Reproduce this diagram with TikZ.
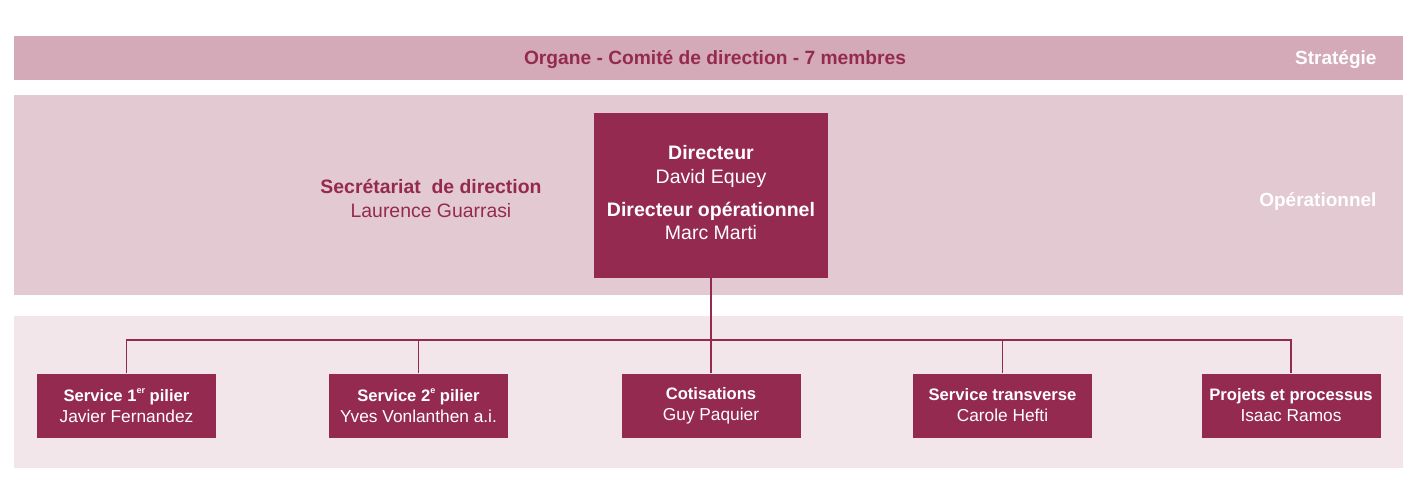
\documentclass[tikz,border=0pt]{standalone}
\usepackage{fontspec}
\setmainfont{Liberation Sans}
\definecolor{wine}{HTML}{952A50}
\definecolor{bandA}{HTML}{D4AAB8}
\definecolor{bandB}{HTML}{E3C9D2}
\definecolor{bandC}{HTML}{F2E6EB}
\newcommand{\unitsup}[1]{\raisebox{0.45em}{\fontsize{9}{9}\selectfont #1}}
\tikzset{
  band/.style={fill=#1, draw=none},
  unit/.style={fill=wine, draw=none, text=white, minimum width=179pt, minimum height=64pt, inner sep=0pt, align=center, font=\fontsize{16.6}{21}\selectfont},
  link/.style={draw=wine, line width=1.3pt},
  bandlabel/.style={text=white, font=\fontsize{19}{22}\selectfont\bfseries, anchor=east}
}
\begin{document}
\begin{tikzpicture}[x=1pt,y=-1pt]
\useasboundingbox (0,0) rectangle (1417,503);
% bands
\fill[band=bandA] (14,36) rectangle (1403,80);
\fill[band=bandB] (14,95) rectangle (1403,295);
\fill[band=bandC] (14,316) rectangle (1403,468);
\node[text=wine, font=\fontsize{19.2}{22}\selectfont\bfseries] (organe) at (715,59) {Organe - Comité de direction - 7 membres};
\node[bandlabel] (strat) at (1380,59.5) {Stratégie};
\node[bandlabel] (oper) at (1380,202) {Opérationnel};
% secretariat
\node[text=wine, align=center, font=\fontsize{19.4}{24}\selectfont] (secr) at (431,198.5) {\textbf{Secrétariat~ de direction}\\Laurence Guarrasi};
% director
\node[fill=wine, minimum width=234pt, minimum height=165pt, inner sep=0pt] (dir) at (711,195.5) {};
\node[text=white, align=center, font=\fontsize{19.5}{24}\selectfont] (dirtxt1) at (711,166.5) {\textbf{Directeur}\\David Equey};
\node[text=white, align=center, font=\fontsize{19.5}{23.5}\selectfont] (dirtxt2) at (711,221) {\textbf{Directeur opérationnel}\\Marc Marti};
% units
\node[unit] (u1) at (126.5,405.5) {\textbf{Service 1\unitsup{er} pilier}\\{\fontsize{17.3}{21}\selectfont Javier Fernandez}};
\node[unit] (u2) at (418.5,405.5) {\textbf{Service 2\unitsup{e} pilier}\\{\fontsize{17.3}{21}\selectfont Yves Vonlanthen a.i.}};
\node[unit] (u3) at (711,405.5) {\textbf{Cotisations}\\{\fontsize{17.3}{21}\selectfont Guy Paquier}};
\node[unit] (u4) at (1002.5,405.5) {\textbf{Service transverse}\\{\fontsize{17.3}{21}\selectfont Carole Hefti}};
\node[unit] (u5) at (1291,405.5) {\textbf{Projets et processus}\\{\fontsize{17.3}{21}\selectfont Isaac Ramos}};
% connectors
\coordinate (bus) at (711,340);
\draw[link] (dir.south) -- (bus);
\draw[link] (u1.north) |- (bus);
\draw[link] (u2.north) |- (bus);
\draw[link] (u3.north) -- (bus);
\draw[link] (u4.north) |- (bus);
\draw[link] (u5.north) |- (bus);
\end{tikzpicture}
\end{document}
